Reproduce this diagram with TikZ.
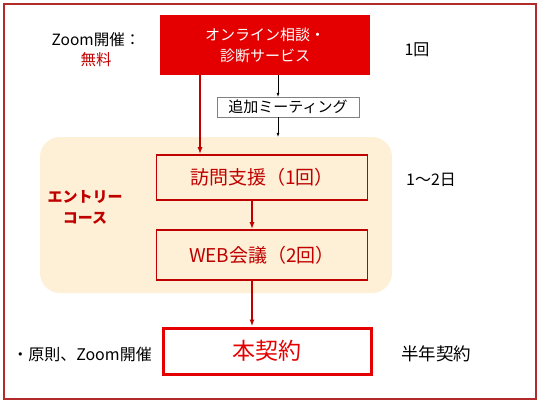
\documentclass[tikz,border=0pt]{standalone}
\usepackage{fontspec}
\setmainfont{Noto Sans CJK JP}
\usepackage{xcolor}
\usetikzlibrary{arrows.meta,positioning}

\definecolor{framered}{RGB}{178,42,42}
\definecolor{darkred}{RGB}{192,0,0}
\definecolor{brightred}{RGB}{228,0,0}
\definecolor{coursebg}{RGB}{253,240,214}

\begin{document}
\begin{tikzpicture}[
    x=1pt, y=-1pt,
    font=\fontsize{15}{18}\selectfont,
    redbox/.style={draw=darkred, line width=1.6pt, text=darkred, minimum width=211pt, align=center, font=\fontsize{19}{22}\selectfont},
    headbox/.style={fill=brightred, text=white, minimum width=210pt, minimum height=60pt, align=center, font=\fontsize{15}{21}\selectfont},
    subbox/.style={draw=gray, fill=white, minimum width=142pt, minimum height=20pt, inner sep=1pt, font=\fontsize{15}{17}\selectfont},
    label/.style={align=center, font=\fontsize{16}{18}\selectfont},
    arrow/.style={-{Latex[length=7pt,width=5pt]}, line width=1.6pt, draw=darkred},
    thinarrow/.style={-{Latex[length=4pt,width=3pt]}, line width=0.6pt}
  ]
    \useasboundingbox (0,0) rectangle (540,405);
    \draw[framered, line width=1.8pt] (4,4) rectangle (536,399);

    % entry course area
    \node[fill=coursebg, rounded corners=20pt, minimum width=352pt, minimum height=156pt] (course) at (216,215) {};

    \node[headbox] (online) at (265,45) {オンライン相談・\\診断サービス};
    \node[subbox] (extra) at (288,107) {追加ミーティング};
    \node[redbox, minimum height=45pt] (visit) at (262,177.5) {訪問支援（1回）};
    \node[redbox, minimum height=50pt] (web) at (262,255) {WEB会議（2回）};
    \node[draw=brightred, line width=3pt, text=brightred, minimum width=208pt, minimum height=46pt, font=\fontsize{23}{26}\selectfont] (contract) at (267,351) {本契約};

    \node[label, font=\fontsize{15.5}{20}\selectfont] (zoom) at (96,50) {Zoom開催：\\\textcolor{darkred}{無料}};
    \node[label, text=darkred, font=\bfseries\fontsize{15}{21}\selectfont] (entry) at (85,207) {エントリー\\コース};
    \node[label] (once) at (417,50) {1回};
    \node[label] (days) at (431,180) {1～2日};
    \node[label] (rule) at (82,354) {・原則、Zoom開催};
    \node[label, font=\fontsize{17.5}{20}\selectfont] (half) at (436,354) {半年契約};

    \draw[thinarrow] ([xshift=13pt]online.south) -- ([xshift=-10pt]extra.north);
    \draw[thinarrow] ([xshift=-10pt]extra.south) -- ([xshift=-10pt]extra.south |- course.north);
    \draw[arrow] ([xshift=-65pt]online.south) -- ([xshift=-62pt]visit.north);
    \draw[arrow] ([xshift=-10pt]visit.south) -- ([xshift=-10pt]web.north);
    \draw[arrow] ([xshift=-10pt]web.south) -- ([xshift=-15pt]contract.north);
  \end{tikzpicture}
\end{document}
